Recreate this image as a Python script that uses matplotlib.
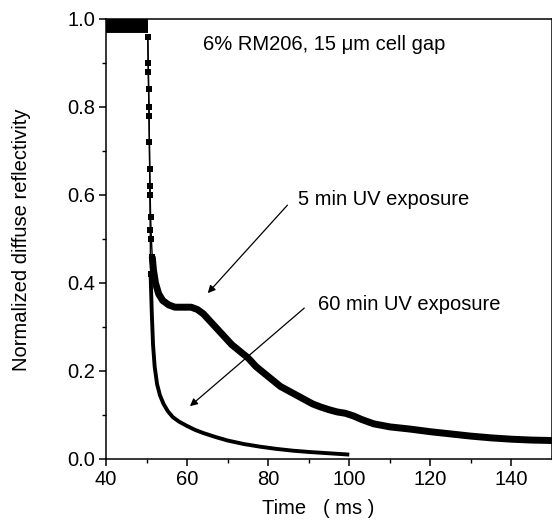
import matplotlib
matplotlib.use("Agg")
import matplotlib.pyplot as plt
import numpy as np

plt.rcParams['font.family'] = ['Liberation Sans', 'DejaVu Sans']

# On-state plateau (both samples) before the field is switched off
t_on = [40.0, 50.3]
r_on = [0.984, 0.984]

# 5 min UV exposure
t_5 = [50.3, 50.4, 50.5, 50.6, 50.7, 50.8, 50.9, 51.0, 51.2, 51.4, 51.7, 52.2,
       53.0, 54.0, 55.5, 57.0, 59.0, 61.0, 62.5, 64.0, 65.5, 67.0, 69.0, 71.0,
       73.0, 75.0, 77.0, 79.0, 81.0, 83.0, 85.0, 87.0, 89.0, 91.0, 93.0, 95.0,
       97.0, 99.0, 101.0, 103.0, 106.0, 110.0, 115.0, 120.0, 125.0, 130.0,
       135.0, 140.0, 145.0, 150.0]
r_5 = [0.96, 0.90, 0.84, 0.78, 0.72, 0.66, 0.60, 0.55, 0.50, 0.46, 0.43, 0.40,
       0.375, 0.36, 0.35, 0.345, 0.345, 0.345, 0.34, 0.33, 0.315, 0.30, 0.28, 0.26,
       0.245, 0.23, 0.21, 0.195, 0.18, 0.165, 0.155, 0.145, 0.135, 0.125, 0.118, 0.112,
       0.107, 0.104, 0.098, 0.09, 0.08, 0.073, 0.068, 0.062, 0.057, 0.052,
       0.048, 0.045, 0.043, 0.042]

# 60 min UV exposure
t_60 = [50.3, 50.45, 50.6, 50.7, 50.8, 50.9, 51.0, 51.3, 51.6, 52.0, 52.6, 53.3,
        54.2, 55.3, 56.5, 58.0, 60.0, 62.0, 64.0, 67.0, 70.0, 74.0, 78.0, 82.0,
        86.0, 90.0, 95.0, 100.0]
r_60 = [0.96, 0.88, 0.80, 0.72, 0.62, 0.52, 0.42, 0.33, 0.26, 0.21, 0.17, 0.145,
        0.125, 0.108, 0.095, 0.085, 0.075, 0.066, 0.059, 0.05, 0.042, 0.034, 0.028, 0.023,
        0.019, 0.016, 0.013, 0.010]

x_ticks = [40, 60, 80, 100, 120, 140]
y_ticks = [0.0, 0.2, 0.4, 0.6, 0.8, 1.0]

fig = plt.figure(figsize=(5.52, 5.28), dpi=100)
ax = fig.add_axes([106 / 552, 1 - 459 / 528, 446 / 552, 440 / 528])

t5 = np.array(t_5); r5 = np.array(r_5)
t60 = np.array(t_60); r60 = np.array(r_60)

# plateau
ax.plot(t_on, r_on, color='black', lw=10, solid_capstyle='butt')

# fast drop: sparse sampled points joined by a thin trace
for t, r, cut in ((t5, r5, 51.4), (t60, r60, 51.0)):
    d = t <= cut
    ax.plot(t[d], r[d], color='black', lw=1.0, marker='s', ms=3.8, mew=0)

# slow relaxation tails
m5 = t5 >= 51.4
ax.plot(t5[m5], r5[m5], color='black', lw=5.0, solid_capstyle='butt',
        solid_joinstyle='round')
m60 = t60 >= 51.0
ax.plot(t60[m60], r60[m60], color='black', lw=2.8, solid_capstyle='butt',
        solid_joinstyle='round')

ax.set_xlim(40, 150)
ax.set_ylim(0, 1.0)
ax.set_xticks(x_ticks)
ax.set_yticks(y_ticks)
ax.set_xticks(np.arange(50, 150, 20), minor=True)
ax.set_yticks(np.arange(0.1, 1.0, 0.2), minor=True)
ax.xaxis.set_major_formatter(matplotlib.ticker.FormatStrFormatter('%d'))
ax.yaxis.set_major_formatter(matplotlib.ticker.FormatStrFormatter('%.1f'))
fs = 14.5
ax.tick_params(which='major', direction='out', length=5, width=1.1,
               labelsize=fs, pad=3)
ax.tick_params(which='minor', direction='out', length=3, width=1.0)
for s in ax.spines.values():
    s.set_linewidth(1.1)

ax.text(63.9, 0.941, '6% RM206, 15 \u03bcm cell gap', fontsize=fs,
        ha='left', va='center')
ax.text(87.4, 0.589, '5 min UV exposure', fontsize=fs, ha='left', va='center')
ax.text(92.4, 0.352, '60 min UV exposure', fontsize=fs, ha='left', va='center')

arrow = dict(arrowstyle='-|>', lw=0.9, color='black', mutation_scale=11,
             shrinkA=0, shrinkB=0)
ax.annotate('', xy=(65.1, 0.377), xytext=(84.75, 0.577), arrowprops=arrow)
ax.annotate('', xy=(60.7, 0.120), xytext=(88.9, 0.343), arrowprops=arrow)

fig.text(22 / 552, 1 - 240 / 528, 'Normalized diffuse reflectivity',
         rotation=90, ha='center', va='center', fontsize=fs)
fig.text(318 / 552, 1 - 508 / 528, 'Time   ( ms )', ha='center', va='center',
         fontsize=fs)

fig.savefig('out.png', dpi=100)
